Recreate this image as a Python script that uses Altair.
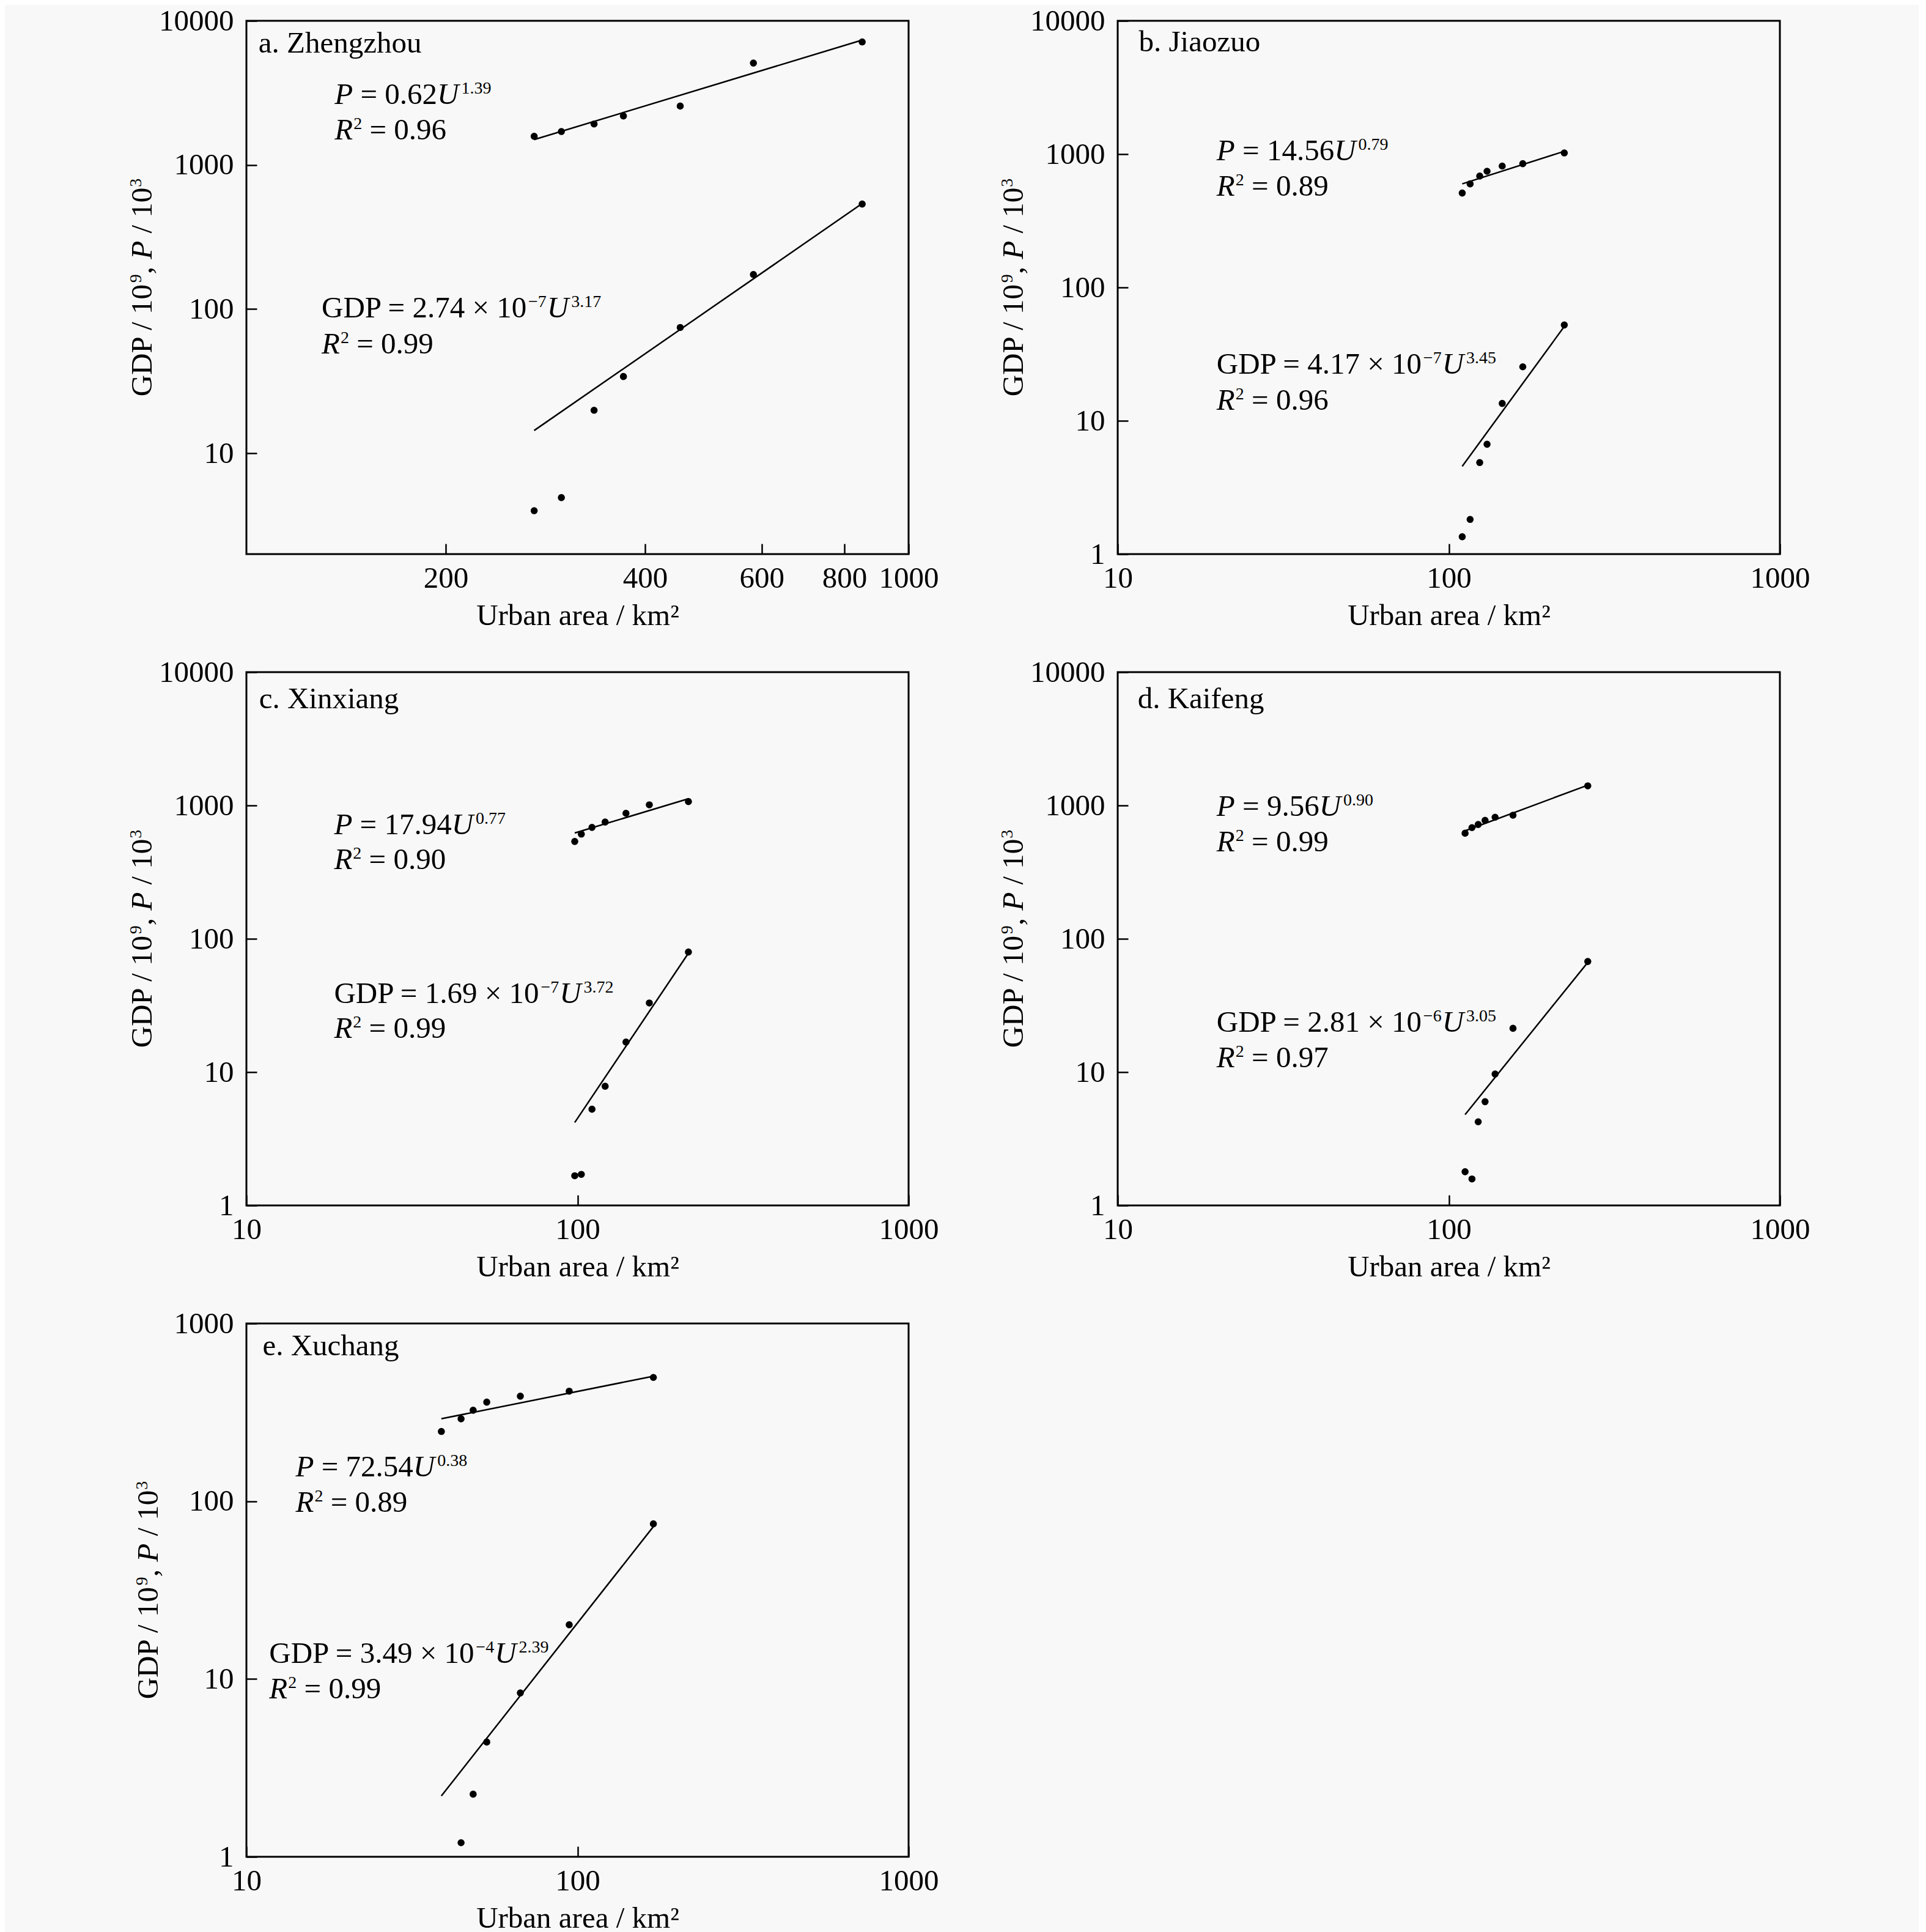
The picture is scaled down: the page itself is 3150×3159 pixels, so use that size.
import altair as alt
import pandas as pd

FONT = "Liberation Serif"
BIG = 49
SUP = 28
RAISE = 17
BG = "#f8f8f8"

# ---------------- data ----------------
# a. Zhengzhou
a_area = [272, 299, 335, 371, 452, 583, 851]
a_pop = [1581, 1706, 1925, 2188, 2562, 5093, 7137]
a_gdp = [4.0, 4.93, 19.9, 34.1, 74.6, 174, 536]
a_fit_x = [272, 851]
a_pop_fit = [1500, 7350]
a_gdp_fit = [14.4, 540]

# b. Jiaozuo
b_area = [109.8, 116.0, 124.0, 130.5, 145.0, 167.3, 223.3]
b_pop = [511, 598, 685, 744, 814, 848, 1021]
b_gdp = [1.35, 1.82, 4.86, 6.67, 13.5, 25.4, 52.3]
b_fit_x = [109.8, 223.3]
b_pop_fit = [598, 1050]
b_gdp_fit = [4.55, 51]

# c. Xinxiang
c_area = [98.1, 102.7, 110.6, 121.2, 140.1, 164.8, 216.3]
c_pop = [537, 610, 685, 751, 874, 1011, 1069]
c_gdp = [1.67, 1.71, 5.27, 7.83, 16.8, 33.0, 79.6]
c_fit_x = [98.1, 216.3]
c_pop_fit = [622, 1123]
c_gdp_fit = [4.19, 78]

# d. Kaifeng
d_area = [112.0, 117.5, 122.7, 128.7, 138.0, 156.3, 262.9]
d_pop = [619, 682, 720, 773, 816, 845, 1403]
d_gdp = [1.79, 1.58, 4.24, 6.0, 9.67, 21.3, 67.6]
d_fit_x = [112.0, 262.9]
d_pop_fit = [645, 1420]
d_gdp_fit = [4.8, 66.5]

# e. Xuchang
e_area = [38.8, 44.5, 48.4, 53.2, 67.2, 94.4, 169.5]
e_pop = [247, 291, 325, 361, 390, 416, 497]
e_gdp_area = [44.5, 48.4, 53.2, 67.2, 94.4, 169.5]
e_gdp = [1.20, 2.25, 4.42, 8.35, 20.2, 74.6]
e_fit_x = [38.8, 169.5]
e_pop_fit = [291, 505]
e_gdp_fit = [2.2, 72]

# equation texts
names = ["a. Zhengzhou", "b. Jiaozuo", "c. Xinxiang", "d. Kaifeng", "e. Xuchang"]
pop_coef = ["0.62", "14.56", "17.94", "9.56", "72.54"]
pop_exp = ["1.39", "0.79", "0.77", "0.90", "0.38"]
pop_r2 = ["0.96", "0.89", "0.90", "0.99", "0.89"]
gdp_coef = ["2.74", "4.17", "1.69", "2.81", "3.49"]
gdp_pow = ["\u22127", "\u22127", "\u22127", "\u22126", "\u22124"]
gdp_exp = ["3.17", "3.45", "3.72", "3.05", "2.39"]
gdp_r2 = ["0.99", "0.96", "0.99", "0.97", "0.99"]

# annotation anchors in data units (area, value)
name_at = [(104.3, 6012), (11.58, 5915), (10.92, 5355), (11.49, 5355), (11.19, 664)]
pop_eq_at = [(135.9, 2646), (19.9, 896), (18.4, 610), (19.9, 839), (14.08, 138)]
pop_r2_at = [(135.9, 1500), (19.9, 486), (18.4, 333), (19.9, 455), (14.08, 86.9)]
gdp_eq_at = [(129.9, 87.5), (19.9, 22.5), (18.4, 33.0), (19.9, 20.0), (11.72, 12.3)]
gdp_r2_at = [(129.9, 49.3), (19.9, 12.1), (18.4, 18.0), (19.9, 10.9), (11.72, 7.76)]

x_domains = [[100, 1000], [10, 1000], [10, 1000], [10, 1000], [10, 1000]]
y_domains = [[2, 10000], [1, 10000], [1, 10000], [1, 10000], [1, 1000]]
x_ticks = [[200, 400, 600, 800, 1000], [10, 100, 1000], [10, 100, 1000], [10, 100, 1000], [10, 100, 1000]]
y_ticks = [[10, 100, 1000, 10000], [1, 10, 100, 1000, 10000], [1, 10, 100, 1000, 10000],
           [1, 10, 100, 1000, 10000], [1, 10, 100, 1000]]

series = [
    (a_area, a_pop, a_area, a_gdp, a_fit_x, a_pop_fit, a_gdp_fit),
    (b_area, b_pop, b_area, b_gdp, b_fit_x, b_pop_fit, b_gdp_fit),
    (c_area, c_pop, c_area, c_gdp, c_fit_x, c_pop_fit, c_gdp_fit),
    (d_area, d_pop, d_area, d_gdp, d_fit_x, d_pop_fit, d_gdp_fit),
    (e_area, e_pop, e_gdp_area, e_gdp, e_fit_x, e_pop_fit, e_gdp_fit),
]

# Times / Liberation Serif advance widths (per 1000 em)
REG = {" ": 250, ".": 250, "=": 564, "\u00d7": 564, "\u2212": 564, "/": 278,
       "G": 722, "D": 722, "P": 556, "R": 667, "U": 722, ",": 250}
for ch in "0123456789":
    REG[ch] = 500
ITA = {"P": 611, "U": 722, "R": 611}
SPACE = 250 * BIG / 1000.0


def text_width(text, italic, size):
    table = ITA if italic else REG
    return sum(table.get(ch, 500) for ch in text) * size / 1000.0


W, H = 1083, 872
YTITLE_X = [-155, -155, -155, -155, -145]


def panel(i):
    area, pop, garea, gdp, fx, pfit, gfit = series[i]
    xs = alt.Scale(type="log", domain=x_domains[i], nice=False)
    ys = alt.Scale(type="log", domain=y_domains[i], nice=False)

    common_axis = dict(
        tickSize=17, offset=-17, domain=False, grid=False, format="d",
        labelFont=FONT, labelFontSize=BIG, labelColor="black",
        titleFont=FONT, titleFontSize=BIG, titleFontWeight="normal", titleColor="black",
        tickColor="black", tickWidth=2.5, labelOverlap=False, labelFlush=False,
    )
    x_axis = alt.Axis(values=x_ticks[i], title="Urban area / km\u00b2",
                      labelPadding=15, titlePadding=12, **common_axis)
    y_axis = alt.Axis(values=y_ticks[i], title="", labelPadding=21, **common_axis)

    def X():
        return alt.X("x:Q", scale=xs, axis=x_axis)

    def Y():
        return alt.Y("y:Q", scale=ys, axis=y_axis)

    pts = pd.DataFrame({"x": list(area) + list(garea), "y": list(pop) + list(gdp)})
    layers = [
        alt.Chart(pts).mark_circle(size=135, color="black", opacity=1)
        .encode(x=X(), y=Y())
    ]
    for fit in (pfit, gfit):
        df = pd.DataFrame({"x": fx, "y": fit})
        layers.append(alt.Chart(df).mark_line(color="black", strokeWidth=2.5)
                      .encode(x=X(), y=Y()))

    def text_line(at, segs):
        dx = 0.0
        out = []
        for text, italic, size, raise_, gap in segs:
            df = pd.DataFrame({"x": [at[0]], "y": [at[1]], "t": [text]})
            out.append(
                alt.Chart(df).mark_text(
                    align="left", baseline="alphabetic", dx=dx, dy=-raise_,
                    font=FONT, fontSize=size, color="black",
                    fontStyle="italic" if italic else "normal",
                ).encode(x=X(), y=Y(), text="t:N")
            )
            dx += text_width(text, italic, size) + gap
        return out

    layers += text_line(name_at[i], [(names[i], False, BIG, 0, 0)])
    layers += text_line(pop_eq_at[i], [
        ("P", True, BIG, 0, SPACE),
        ("= " + pop_coef[i], False, BIG, 0, 0),
        ("U", True, BIG, 0, 4),
        (pop_exp[i], False, SUP, RAISE, 0),
    ])
    layers += text_line(pop_r2_at[i], [
        ("R", True, BIG, 0, 1),
        ("2", False, SUP, RAISE, SPACE),
        ("= " + pop_r2[i], False, BIG, 0, 0),
    ])
    layers += text_line(gdp_eq_at[i], [
        ("GDP = " + gdp_coef[i] + " \u00d7 10", False, BIG, 0, 1),
        (gdp_pow[i], False, SUP, RAISE, 1),
        ("U", True, BIG, 0, 4),
        (gdp_exp[i], False, SUP, RAISE, 0),
    ])
    layers += text_line(gdp_r2_at[i], [
        ("R", True, BIG, 0, 1),
        ("2", False, SUP, RAISE, SPACE),
        ("= " + gdp_r2[i], False, BIG, 0, 0),
    ])

    # rotated y-axis title with italic P and superscripts
    tsegs = [
        ("GDP / 10", False, BIG, 0, 1),
        ("9", False, SUP, RAISE, 0),
        (",", False, BIG, 0, SPACE),
        ("P", True, BIG, 0, SPACE),
        ("/ 10", False, BIG, 0, 1),
        ("3", False, SUP, RAISE, 0),
    ]
    total = sum(text_width(t, it, s) + g for t, it, s, r, g in tsegs)
    pos = H / 2 + total / 2
    for text, italic, size, raise_, gap in tsegs:
        df = pd.DataFrame({"t": [text]})
        layers.append(
            alt.Chart(df).mark_text(
                align="left", baseline="alphabetic", angle=270,
                font=FONT, fontSize=size, color="black",
                fontStyle="italic" if italic else "normal",
            ).encode(x=alt.value(YTITLE_X[i] - raise_), y=alt.value(pos), text="t:N")
        )
        pos -= text_width(text, italic, size) + gap

    return alt.layer(*layers).properties(width=W, height=H)


chart = alt.concat(
    *[panel(i) for i in range(5)],
    columns=2, spacing={"row": 193, "column": 342}, bounds="flush",
).properties(
    padding={"left": 199, "top": 0, "right": 176, "bottom": 5},
    background=BG,
).configure_view(
    stroke="black", strokeWidth=3, fill=BG
)

chart.save("out.html", embed_options={"renderer": "svg", "actions": False})
